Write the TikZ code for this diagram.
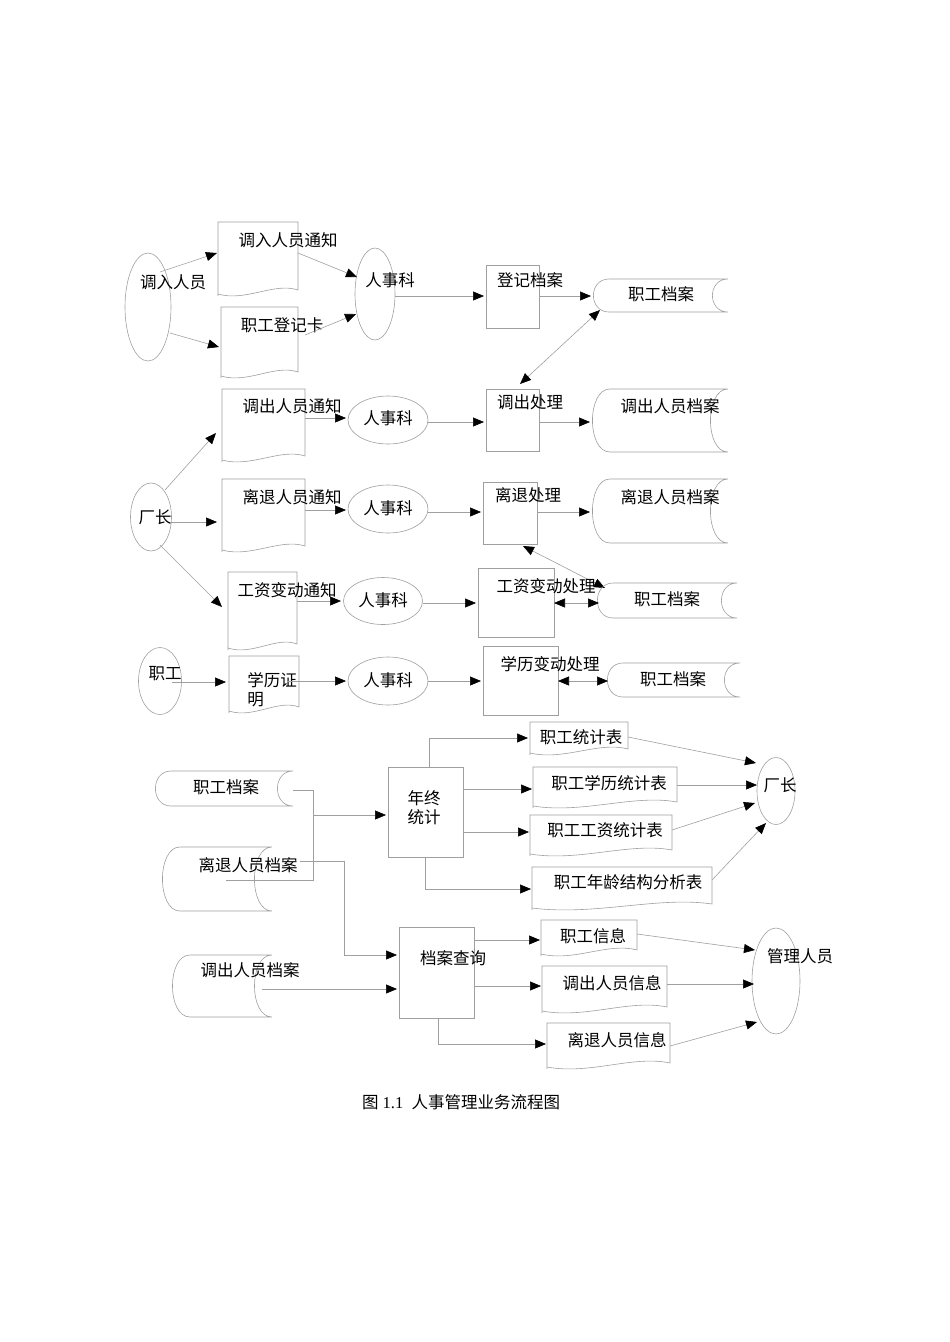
\documentclass[tikz,border=0pt]{standalone}
\usepackage{fontspec}
\setmainfont{Liberation Serif}
\newfontfamily\cjk{Noto Sans CJK SC}
\usetikzlibrary{arrows.meta}
\newcommand{\docshp}[4]{\draw[shp] (#1,#4) -- (#1,#2) -- (#3,#2) -- (#3,#4-6) .. controls ({#3-0.3*(#3-#1)},#4-14) and ({#1+0.35*(#3-#1)},#4+6) .. (#1,#4-2);}
\newcommand{\stoshp}[5]{\draw[shp] ({#1+#5},#2) -- (#3,#2) .. controls ({#3-#5*1.3},#2) and ({#3-#5*1.3},#4) .. (#3,#4) -- ({#1+#5},#4) .. controls ({#1-#5*0.3},#4) and ({#1-#5*0.3},#2) .. ({#1+#5},#2);}
\begin{document}
\begin{tikzpicture}[x=1pt,y=-1pt,
  shp/.style={draw=gray!75,line width=0.6pt},
  ln/.style={draw=gray!75,line width=0.6pt},
  ar/.style={ln,-{Triangle[length=11pt,width=9pt,color=black]}},
  dar/.style={ln,{Triangle[length=11pt,width=9pt,color=black]}-{Triangle[length=11pt,width=9pt,color=black]}},
  lab/.style={font=\cjk\fontsize{16.5}{19}\selectfont,inner sep=0pt,align=center},
  box/.style={shp}]
\useasboundingbox (0,0) rectangle (950,1342);
% ---------- row 1
\draw[shp] (148,307) ellipse (23 and 54);
\node[lab] (n1) at (173,282) {调入人员};
\docshp{218}{222}{298}{296}
\node[lab] (n2) at (288,240) {调入人员通知};
\docshp{221}{307}{298}{378}
\node[lab] (n3) at (282,325) {职工登记卡};
\draw[shp] (375,294) ellipse (20 and 46);
\node[lab] (n4) at (390,280) {人事科};
\draw[box] (486,265) rectangle (539,328);
\node[lab] (n5) at (530,280) {登记档案};
\stoshp{593}{279}{728}{312}{16}
\node[lab] (n6) at (661,294) {职工档案};
\draw[ar] (160,272) -- (217,253);
\draw[ar] (170,333) -- (219,347);
\draw[ar] (298,253) -- (357,277);
\draw[ar] (305,335) -- (356,314);
\draw[ar] (395,296) -- (484,296);
\draw[ar] (539,296) -- (591,296);
\draw[dar] (600,310) -- (520,384);
% ---------- row 2
\docshp{222}{389}{305}{462}
\node[lab] (n7) at (292,406) {调出人员通知};
\draw[shp] (388,420) ellipse (40 and 24);
\node[lab] (n8) at (388,418) {人事科};
\draw[box] (486,389) rectangle (539,451);
\node[lab] (n9) at (530,402) {调出处理};
\stoshp{592}{389}{728}{452}{18}
\node[lab] (n10) at (670,406) {调出人员档案};
\draw[ar] (305,418) -- (346,418);
\draw[ar] (428,422) -- (484,422);
\draw[ar] (539,422) -- (590,422);
% ---------- row 3
\draw[shp] (151,517) ellipse (20.5 and 34);
\node[lab] (n11) at (155,517) {厂长};
\docshp{222}{479}{305}{552}
\node[lab] (n12) at (292,497) {离退人员通知};
\draw[shp] (388,509) ellipse (40 and 24);
\node[lab] (n13) at (388,508) {人事科};
\draw[box] (483,482) rectangle (537,544);
\node[lab] (n14) at (528,495) {离退处理};
\stoshp{592}{479}{728}{543}{18}
\node[lab] (n15) at (670,497) {离退人员档案};
\draw[ar] (165,490) -- (216,433);
\draw[ar] (170,522) -- (217,522);
\draw[ar] (160,545) -- (222,607);
\draw[ar] (305,510) -- (346,510);
\draw[ar] (428,512) -- (481,512);
\draw[ar] (537,512) -- (590,512);
\draw[dar] (523,546) -- (605,588);
% ---------- row 4
\docshp{228}{572}{297}{650}
\node[lab] (n16) at (287,590) {工资变动通知};
\draw[shp] (383,601) ellipse (39.5 and 23.5);
\node[lab] (n17) at (383,600) {人事科};
\draw[box] (478,568) rectangle (554,637);
\node[lab] (n18) at (546,586) {工资变动处理};
\stoshp{597}{583}{737}{618}{16}
\node[lab] (n19) at (667,599) {职工档案};
\draw[ar] (297,601) -- (341,601);
\draw[ar] (423,603) -- (476,603);
\draw[dar] (554,603) -- (599,603);
% ---------- row 5
\draw[shp] (160,681) ellipse (21.5 and 33.5);
\node[lab] (n20) at (165,674) {职工};
\docshp{229}{656}{299}{713}
\node[lab,align=left] (n21) at (272,690) {学历证\\明};
\draw[shp] (388,681) ellipse (40 and 24);
\node[lab] (n22) at (388,680) {人事科};
\draw[box] (483,646) rectangle (558,715);
\node[lab] (n23) at (550,664) {学历变动处理};
\stoshp{607}{663}{740}{697}{16}
\node[lab] (n24) at (673,679) {职工档案};
\draw[ar] (172,682) -- (226,682);
\draw[ar] (287,681) -- (346,681);
\draw[ar] (428,681) -- (481,681);
\draw[dar] (558,681) -- (608,681);
% ---------- bottom
\stoshp{155}{771}{293}{806}{16}
\node[lab] (b1) at (226,787) {职工档案};
\stoshp{162}{847}{272}{911}{18}
\node[lab] (b2) at (248,865) {离退人员档案};
\stoshp{172}{955}{272}{1017}{18}
\node[lab] (b3) at (250,970) {调出人员档案};
\draw[box] (388,767) rectangle (463,857);
\node[lab] (b4) at (424,808) {年终\\统计};
\draw[box] (399,927) rectangle (474,1018);
\node[lab] (b5) at (453,958) {档案查询};
\draw[ln] (293,790) -- (313,790) -- (313,880) -- (226,880);
\draw[ar] (313,815) -- (386,815);
\draw[ar] (300,861) -- (344,861) -- (344,955) -- (397,955);
\draw[ar] (262,989) -- (397,989);
\docshp{530}{722}{628}{755}
\node[lab] (c1) at (581,737) {职工统计表};
\docshp{533}{767}{677}{808}
\node[lab] (c2) at (609,783) {职工学历统计表};
\docshp{530}{815}{672}{856}
\node[lab] (c3) at (605,830) {职工工资统计表};
\docshp{532}{867}{712}{910}
\node[lab] (c4) at (628,882) {职工年龄结构分析表};
\draw[shp] (776,791) ellipse (19 and 33.5);
\node[lab] (c5) at (780,785) {厂长};
\draw[ar] (429,767) -- (429,738) -- (528,738);
\draw[ar] (463,789) -- (532,789);
\draw[ar] (463,832) -- (529,832);
\draw[ar] (425,857) -- (425,889) -- (531,889);
\draw[ar] (628,737) -- (756,763);
\draw[ar] (677,785) -- (757,785);
\draw[ar] (672,830) -- (755,803);
\draw[ar] (712,880) -- (766,823);
\docshp{541}{920}{637}{956}
\node[lab] (d1) at (593,936) {职工信息};
\docshp{542}{966}{667}{1013}
\node[lab] (d2) at (612,983) {调出人员信息};
\docshp{547}{1023}{670}{1069}
\node[lab] (d3) at (617,1040) {离退人员信息};
\draw[shp] (776,981) ellipse (24 and 53);
\node[lab] (d4) at (800,956) {管理人员};
\draw[ar] (474,940) -- (540,940);
\draw[ar] (474,986) -- (541,986);
\draw[ar] (438,1018) -- (438,1044) -- (546,1044);
\draw[ar] (637,934) -- (755,950);
\draw[ar] (667,984) -- (754,984);
\draw[ar] (670,1046) -- (757,1022);
\node[font=\fontsize{16.5}{19}\selectfont,inner sep=0pt] (cap) at (461,1102) {{\cjk 图} 1.1\ \ {\cjk 人事管理业务流程图}};
\end{tikzpicture}
\end{document}
